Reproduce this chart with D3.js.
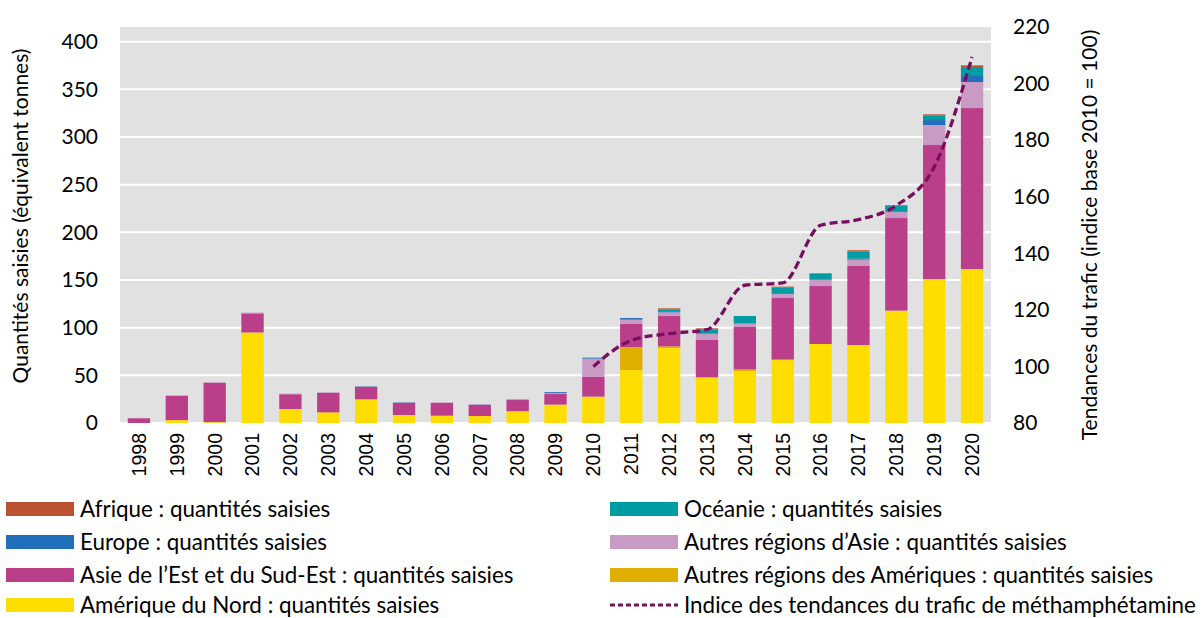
<!DOCTYPE html>
<html>
<head>
<meta charset="utf-8">
<script src="https://cdn.jsdelivr.net/npm/d3@7"></script>
<style>
    body { margin: 0; background: #fff; }
    svg { display: block; }
</style>
</head>
<body>
<svg id="chart" width="1203" height="618"></svg>
<script>
"use strict";

// données
var annees = ["1998","1999","2000","2001","2002","2003","2004","2005","2006","2007","2008","2009","2010","2011","2012","2013","2014","2015","2016","2017","2018","2019","2020"];
var ameriqueNord    = [0, 3, 0.5, 95, 14.7, 11.2, 24.8, 8.4, 7.7, 7.3, 12.3, 19.3, 27.7, 55.6, 78.7, 47.9, 54.5, 66.5, 82.9, 81.8, 117.9, 151, 161.5];
var autresAmeriques = [0, 0, 0.6, 0, 0, 0, 0, 0, 0, 0, 0, 0, 0, 24.1, 1.7, 0, 1.8, 0, 0, 0, 0, 0, 0];
var asieEst         = [5, 25.5, 41, 20, 15.5, 20.5, 13, 12.6, 13.3, 11.7, 11.8, 11.1, 20.6, 24.2, 31.8, 39.2, 44.4, 64.6, 60.8, 82.9, 97.1, 140.6, 168.9];
var autresAsie      = [0.3, 0.5, 0.7, 0.8, 0.6, 0.5, 0.3, 0.3, 0.7, 0.4, 0.4, 1.2, 19.2, 4.5, 3.9, 6.3, 3.5, 4.2, 6.3, 6.7, 6.3, 21, 27.3];
var europe          = [0, 0, 0, 0, 0, 0, 0.4, 0.4, 0, 0.2, 0.3, 0.9, 0.6, 1.7, 0.5, 0.3, 0.3, 0.8, 0.3, 1.0, 0.8, 5.2, 6.3];
var oceanie         = [0, 0, 0, 0, 0, 0, 0, 0, 0, 0, 0, 0, 0.5, 0, 2.4, 4.6, 7.7, 5.9, 6.0, 7.7, 5.5, 5.0, 9.4];
var afrique         = [0, 0, 0, 0, 0, 0, 0, 0, 0, 0, 0, 0, 0, 0, 1.3, 1.0, 0, 1.1, 0.7, 1.1, 0.8, 1.0, 1.8];
var indiceTrafic    = [null, null, null, null, null, null, null, null, null, null, null, null, 100, 109.2, 111.6, 113, 128.7, 129.5, 149.9, 151.9, 156.9, 170.5, 209.4];

var ticksGauche = [0, 50, 100, 150, 200, 250, 300, 350, 400];
var ticksDroite = [80, 100, 120, 140, 160, 180, 200, 220];

// séries empilées, de bas en haut
var series = [
    {key: "nord",   label: "Amérique du Nord : quantités saisies",            values: ameriqueNord,    color: "#FFDD00"},
    {key: "autAm",  label: "Autres régions des Amériques : quantités saisies", values: autresAmeriques, color: "#E0AE00"},
    {key: "est",    label: "Asie de l\u2019Est et du Sud-Est : quantités saisies", values: asieEst,     color: "#BA3E8A"},
    {key: "autAs",  label: "Autres régions d\u2019Asie : quantités saisies",   values: autresAsie,      color: "#C99BC4"},
    {key: "eur",    label: "Europe : quantités saisies",                      values: europe,          color: "#1F6FBA"},
    {key: "oce",    label: "Océanie : quantités saisies",                     values: oceanie,         color: "#009CA4"},
    {key: "afr",    label: "Afrique : quantités saisies",                     values: afrique,         color: "#BB5230"}
];
var couleurLigne = "#7A0E5E";
var labelLigne = "Indice des tendances du trafic de méthamphétamine";

var police = "Lato, 'Open Sans', sans-serif";

var svg = d3.select("#chart");

// zone de tracé
var plot = {left: 120, right: 991, top: 27, bottom: 423};

var x = d3.scaleBand()
    .domain(annees)
    .range([plot.left, plot.right])
    .paddingInner(0.41)
    .paddingOuter(0.205);

var yGauche = d3.scaleLinear().domain([0, 400]).range([plot.bottom, 41.7]);
var yDroite = d3.scaleLinear().domain([80, 220]).range([plot.bottom, plot.top]);

// fond gris
svg.append("rect")
    .attr("x", plot.left)
    .attr("y", plot.top)
    .attr("width", plot.right - plot.left)
    .attr("height", plot.bottom - plot.top)
    .attr("fill", "#E1E1E1");

// lignes de grille
svg.append("g").selectAll("line")
    .data(ticksGauche)
    .enter()
    .append("line")
    .attr("x1", plot.left)
    .attr("x2", plot.right)
    .attr("y1", function(d){ return yGauche(d); })
    .attr("y2", function(d){ return yGauche(d); })
    .attr("stroke", "#fff")
    .attr("stroke-width", 2);

// table pour d3.stack
var table = annees.map(function(a, i){
    var row = {annee: a};
    series.forEach(function(s){ row[s.key] = s.values[i]; });
    return row;
});

var stack = d3.stack().keys(series.map(function(s){ return s.key; }));
var couches = stack(table);

svg.append("g").selectAll("g")
    .data(couches)
    .enter()
    .append("g")
    .attr("fill", function(d, i){ return series[i].color; })
    .selectAll("rect")
    .data(function(d){ return d; })
    .enter()
    .append("rect")
    .attr("x", function(d){ return x(d.data.annee); })
    .attr("width", x.bandwidth())
    .attr("y", function(d){ return yGauche(d[1]); })
    .attr("height", function(d){ return Math.max(0, yGauche(d[0]) - yGauche(d[1])); });

// courbe de l'indice
var pointsIndice = annees.map(function(a, i){ return {annee: a, v: indiceTrafic[i]}; })
    .filter(function(d){ return d.v !== null; });

var ligne = d3.line()
    .x(function(d){ return x(d.annee) + x.bandwidth() / 2; })
    .y(function(d){ return yDroite(d.v); })
    .curve(d3.curveMonotoneX);

svg.append("path")
    .datum(pointsIndice)
    .attr("d", ligne)
    .attr("fill", "none")
    .attr("stroke", couleurLigne)
    .attr("stroke-width", 3.3)
    .attr("stroke-dasharray", "8,4");

// axe gauche
var axeGauche = d3.axisLeft(yGauche).tickValues(ticksGauche).tickSize(0).tickPadding(0);
var gAxeG = svg.append("g")
    .attr("transform", "translate(98,0)")
    .call(axeGauche);
gAxeG.select(".domain").remove();
gAxeG.selectAll("text")
    .attr("font-family", police)
    .attr("font-size", 21)
    .attr("fill", "#000");

// axe droit
var axeDroit = d3.axisRight(yDroite).tickValues(ticksDroite).tickSize(0).tickPadding(0);
var gAxeD = svg.append("g")
    .attr("transform", "translate(1013,0)")
    .call(axeDroit);
gAxeD.select(".domain").remove();
gAxeD.selectAll("text")
    .attr("font-family", police)
    .attr("font-size", 21)
    .attr("fill", "#000");

// axe des années (texte vertical)
var axeX = d3.axisBottom(x).tickSize(0).tickPadding(0);
var gAxeX = svg.append("g")
    .attr("transform", "translate(0," + plot.bottom + ")")
    .call(axeX);
gAxeX.select(".domain").remove();
gAxeX.selectAll("text")
    .attr("font-family", "'Liberation Sans', Arial, sans-serif")
    .attr("font-size", 19.5)
    .attr("fill", "#000")
    .attr("transform", "rotate(-90)")
    .attr("text-anchor", "end")
    .attr("dy", "0.35em")
    .attr("x", -10)
    .attr("y", 0);

// titres des axes
svg.append("text")
    .attr("transform", "translate(28,216) rotate(-90)")
    .attr("text-anchor", "middle")
    .attr("font-family", police)
    .attr("font-size", 21)
    .attr("fill", "#000")
    .text("Quantités saisies (équivalent tonnes)");

svg.append("text")
    .attr("transform", "translate(1097,235) rotate(-90)")
    .attr("text-anchor", "middle")
    .attr("font-family", police)
    .attr("font-size", 21)
    .attr("fill", "#000")
    .text("Tendances du trafic (indice base 2010 = 100)");

// légende : deux colonnes
var legende = [
    {label: series[6].label, color: series[6].color, col: 0, row: 0},
    {label: series[4].label, color: series[4].color, col: 0, row: 1},
    {label: series[2].label, color: series[2].color, col: 0, row: 2},
    {label: series[0].label, color: series[0].color, col: 0, row: 3},
    {label: series[5].label, color: series[5].color, col: 1, row: 0},
    {label: series[3].label, color: series[3].color, col: 1, row: 1},
    {label: series[1].label, color: series[1].color, col: 1, row: 2},
    {label: labelLigne, color: couleurLigne, col: 1, row: 3, ligne: true}
];
var colX = [6, 610];
var rowY = [509, 542, 575, 605];

var gLeg = svg.append("g").selectAll("g")
    .data(legende)
    .enter()
    .append("g")
    .attr("transform", function(d){ return "translate(" + colX[d.col] + "," + rowY[d.row] + ")"; });

gLeg.filter(function(d){ return !d.ligne; })
    .append("rect")
    .attr("x", 0)
    .attr("y", -7)
    .attr("width", 68)
    .attr("height", 14)
    .attr("fill", function(d){ return d.color; });

gLeg.filter(function(d){ return d.ligne; })
    .append("line")
    .attr("x1", 0)
    .attr("x2", 68)
    .attr("y1", 0)
    .attr("y2", 0)
    .attr("stroke", function(d){ return d.color; })
    .attr("stroke-width", 3)
    .attr("stroke-dasharray", "5,3");

gLeg.append("text")
    .attr("x", 74)
    .attr("y", 0)
    .attr("dy", "0.35em")
    .attr("font-family", police)
    .attr("font-size", 22.4)
    .attr("fill", "#000")
    .text(function(d){ return d.label; });
</script>
</body>
</html>
